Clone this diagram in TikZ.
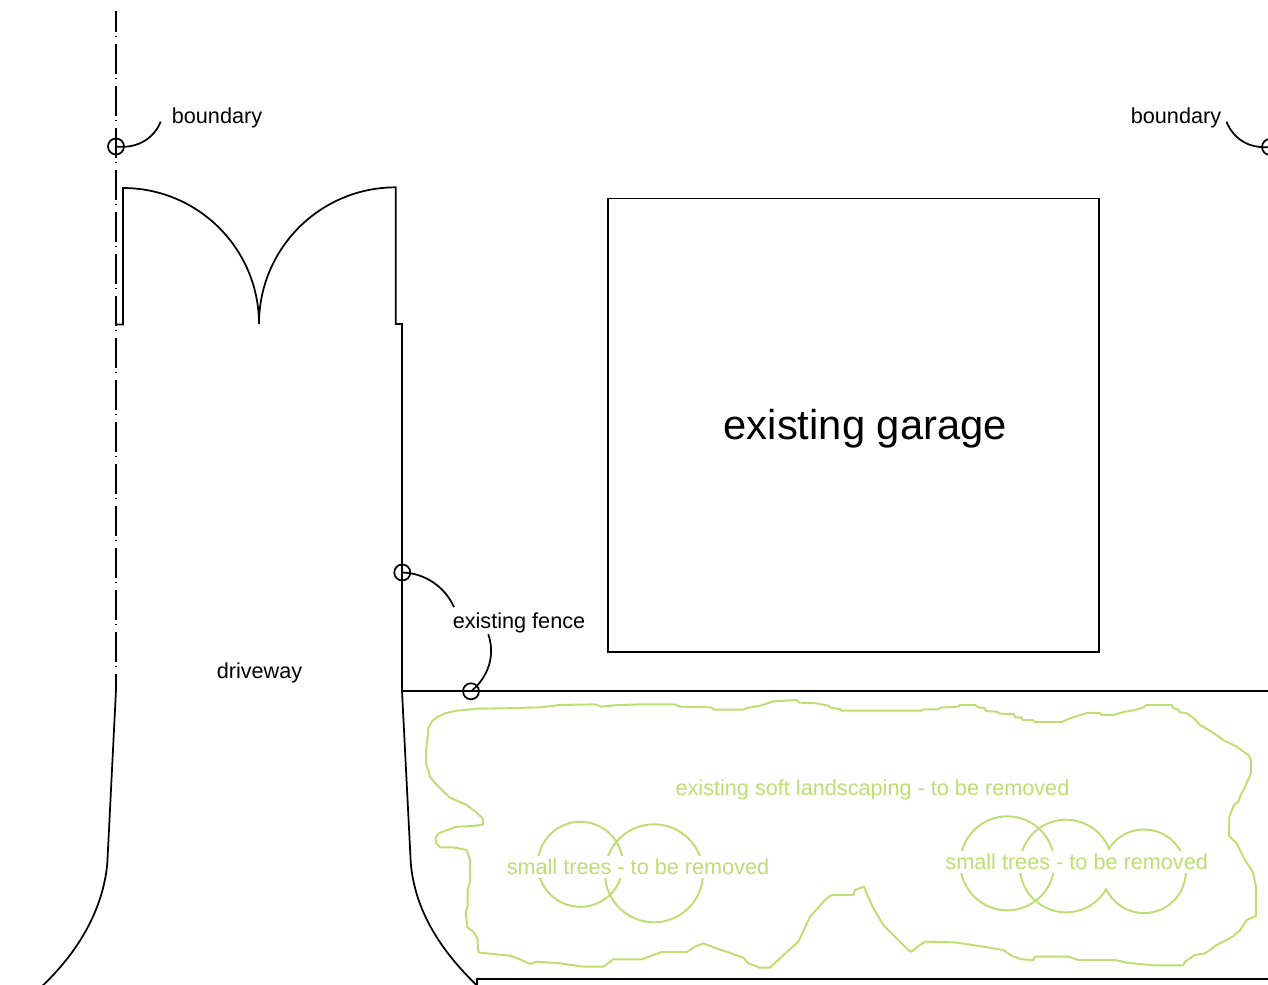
\documentclass[tikz,border=0pt]{standalone}
\usepackage{fontspec}
\setmainfont{Liberation Sans}
\definecolor{soft}{HTML}{BFDD72}
\tikzset{
  line/.style={draw=black,line width=1.3pt,line join=miter},
  softline/.style={draw=soft,line width=1.45pt,line join=round},
  mark circle/.style={circle,draw=black,line width=1.3pt,minimum size=12pt,inner sep=0pt},
  small label/.style={anchor=base,inner sep=0pt,font=\fontsize{16.25}{18}\selectfont,text=black},
  big label/.style={anchor=base,inner sep=0pt,font=\fontsize{31.3}{34}\selectfont,text=black},
  soft label/.style={small label,text=soft},
  tree label/.style={soft label,fill=white,text height=13.5pt,text depth=3pt},
  boundary line/.style={line,dash pattern=on 22.5pt off 3pt on 1.1pt off 4.9pt,dash phase=6.75pt},
  zleft/.style={shift={(420,690)},x=.25pt,y=-.25pt},
  zright/.style={shift={(840,690)},x=.25pt,y=-.25pt}
}
\begin{document}
\begin{tikzpicture}[x=.75pt,y=-.75pt]
\useasboundingbox (0,0) rectangle (1268,985);
\clip (0,0) rectangle (1268,985);
% boundary
\draw[boundary line] (116,11) -- (116,690);
% driveway left edge
\draw[line] (116,690) -- (107.3,863.5) .. controls (103,910) and (78,952) .. (42.7,985.5);
% gate and fence
\draw[line] (116,324.5) -- (123,324.5) -- (123,188) arc[start angle=90,end angle=0,radius=102pt]
  arc[start angle=180,end angle=90,radius=102.5pt] -- (395.7,324) -- (402,324) -- (402,691) -- (1268,691);
% driveway right edge and lower wall
\draw[line] (402,691) -- (410.8,863.5) .. controls (415,910) and (440,950) .. (477,985.5) -- (477,979) -- (1268,979);
% garage
\node[line,draw,rectangle,inner sep=0pt,anchor=north west,minimum width=368.6pt,minimum height=340.2pt] (garage) at (606.8,197.7) {};
\node[big label] (garagetext) at (865.3,439.5) {existing garage};
% soft landscaping
\draw[softline]
 {[zleft] (25,115) -- (35,95) -- (50,82) -- (75,70) -- (110,62) -- (170,56) -- (250,55) -- (360,52) -- (420,45) -- (525,43) -- (545,50) -- (580,46) -- (660,43) -- (765,43) -- (780,50) -- (875,52) -- (882,59) -- (970,59) -- (980,54) -- (1020,47) -- (1060,34) -- (1130,30) -- (1137,38) -- (1190,40) -- (1225,47) -- (1232,53) -- (1260,57) -- (1265,63)}
 {[zright] -- (5,62) -- (245,62) -- (250,58) -- (295,58) -- (300,53) -- (355,50) -- (360,45) -- (405,45) -- (415,52) -- (435,55) -- (437,63) -- (470,65) -- (480,71) -- (522,72) -- (525,82) -- (545,83) -- (548,90) -- (578,90) -- (585,96) -- (665,96) -- (690,85) -- (740,69) -- (780,69) -- (785,75) -- (820,75) -- (850,66) -- (885,60) -- (910,52) -- (920,45) -- (995,45) -- (1000,55) -- (1015,58) -- (1017,66) -- (1040,70) -- (1062,85) -- (1080,105) -- (1115,125) -- (1150,150) -- (1190,170) -- (1225,195) -- (1233,210) -- (1233,250) -- (1215,290) -- (1200,320) -- (1195,335) -- (1182,345) -- (1168,380) -- (1167,437) -- (1190,460) -- (1215,510) -- (1238,545) -- (1248,590) -- (1248,678) -- (1220,690) -- (1200,720) -- (1178,740) -- (1130,765) -- (1095,790) -- (1065,795) -- (1035,815) -- (1030,826) -- (940,826) -- (860,818) -- (825,810) -- (715,810) -- (685,800) -- (585,800) -- (580,810) -- (545,808) -- (515,797) -- (490,780) -- (430,770) -- (345,757) -- (255,755) -- (230,772) -- (215,785) -- (205,780) -- (130,705) -- (100,655) -- (80,610) -- (72,590) -- (45,600) -- (40,615) -- (0,615)}
 {[zleft] -- (1235,615) -- (1220,625) -- (1170,680) -- (1135,755) -- (1085,800) -- (1050,833) -- (1020,833) -- (985,820) -- (970,803) -- (870,768) -- (850,760) -- (825,770) -- (800,786) -- (725,786) -- (700,795) -- (665,808) -- (580,808) -- (550,830) -- (490,830) -- (420,820) -- (350,815) -- (330,822) -- (300,808) -- (270,797) -- (180,788) -- (175,785) -- (172,745) -- (160,725) -- (142,712) -- (137,665) -- (143,650) -- (143,600) -- (150,575) -- (150,510) -- (140,480) -- (100,472) -- (60,472) -- (48,460) -- (47,445) -- (55,430) -- (110,410) -- (160,408) -- (190,403) -- (188,385) -- (170,368) -- (140,345) -- (90,323) -- (50,285) -- (30,260) -- (18,220) -- (18,180) -- (22,150)} -- cycle;
% trees
\draw[softline] (580.3,864.3) circle[radius=31.9pt];
\draw[softline] (654,873.3) circle[radius=36.75pt];
\draw[softline] (1007.3,863.3) circle[radius=35.25pt];
\coordinate (treeB) at (1066,866);
\coordinate (treeC) at (1144,871.3);
\draw[softline] (treeB) ++(20:34.75pt) arc[start angle=20,end angle=331,radius=34.75pt];
\draw[softline] (treeC) ++(204.5:31.35pt) arc[start angle=204.5,end angle=508,radius=31.35pt];
\node[soft label] (softtext) at (872.5,795) {existing soft landscaping - to be removed};
\node[tree label] (treesleft) at (638,874.3) {small trees - to be removed};
\node[tree label] (treesright) at (1076.7,869.3) {small trees - to be removed};
% labels
\node[small label] (driveway) at (259.5,678) {driveway};
\node[small label] (boundaryleft) at (217,123) {boundary};
\node[small label] (boundaryright) at (1176,123) {boundary};
\node[small label] (fence) at (519,628) {existing fence};
% markers and leaders
\node[mark circle] (mb1) at (116,146.5) {};
\node[mark circle] (mb2) at (1270,147) {};
\node[mark circle] (mf1) at (402.3,572.5) {};
\node[mark circle] (mf2) at (471,691.3) {};
\coordinate (lb1) at (160.7,121.7);
\coordinate (lb2) at (1226.5,121.7);
\coordinate (lf1) at (454,607);
\coordinate (lf2) at (488.3,634.3);
\draw[line] (mb1.center) .. controls (138,149) and (154,138) .. (lb1);
\draw[line] (mb2.center) .. controls (1248,149) and (1233,138) .. (lb2);
\draw[line] (mf1.center) .. controls (425,573) and (445,587) .. (lf1);
\draw[line] (mf2.center) .. controls (484,681) and (497,660) .. (lf2);
\end{tikzpicture}
\end{document}
